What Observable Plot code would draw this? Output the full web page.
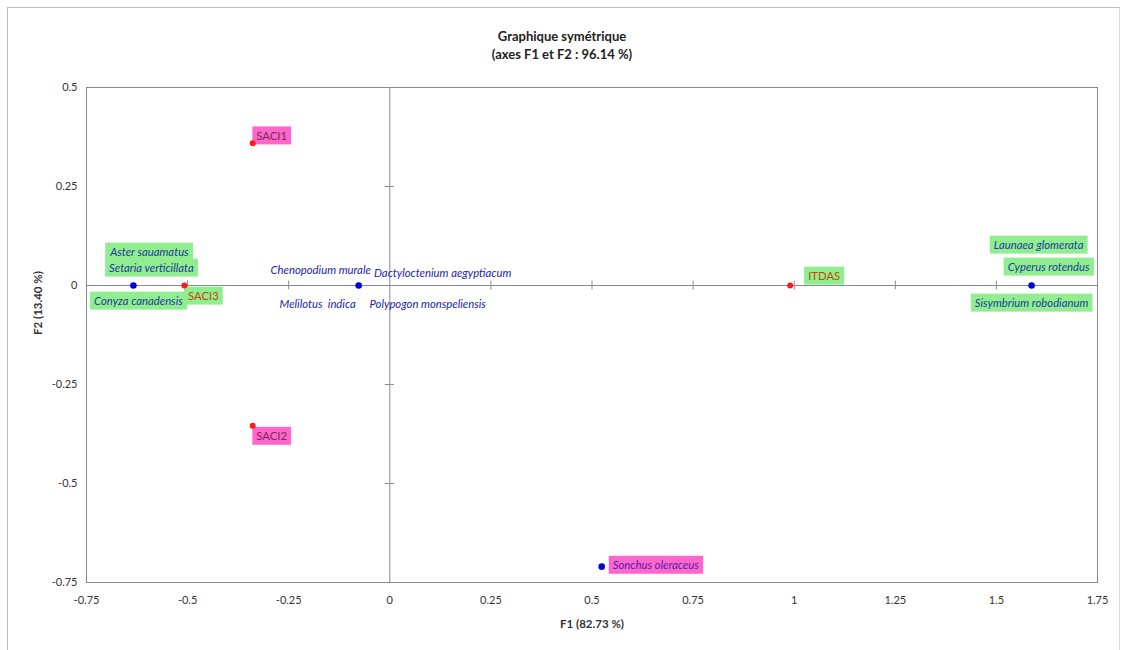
<!DOCTYPE html>
<html>
<head>
<meta charset="utf-8">
<script src="https://cdn.jsdelivr.net/npm/d3@7"></script>
<script src="https://cdn.jsdelivr.net/npm/@observablehq/plot@0.6"></script>
<style>
  html, body { margin: 0; padding: 0; background: #fff; }
  #page { position: relative; width: 1124px; height: 650px; overflow: hidden; font-family: Lato, "Open Sans", sans-serif; }
  #frame { position: absolute; left: 7px; top: 7px; width: 1111px; height: 660px; border-left: 1px solid #bdbdbd; border-top: 1px solid #bdbdbd; border-right: 1px solid #d8d8d8; }
  #title { position: absolute; left: 0; top: 27px; width: 1124px; text-align: center; font-weight: bold; font-size: 13px; line-height: 18px; color: #222; font-family: Lato, sans-serif; }
  #chart { position: absolute; left: 0; top: 70px; }
  #chart text { white-space: pre; }
</style>
</head>
<body>
<div id="page">
  <div id="frame"></div>
  <div id="title">Graphique symétrique<br>(axes F1 et F2 : 96.14 %)</div>
  <div id="chart"></div>
</div>
<script>
// ---- data ----
const siteNames = ["SACI1", "SACI2", "SACI3", "ITDAS"];
const siteF1 = [-0.339, -0.339, -0.508, 0.99];
const siteF2 = [0.359, -0.354, 0.0, 0.0];

const speciesNames = [
  "Aster sauamatus", "Setaria verticillata", "Conyza canadensis",
  "Chenopodium murale", "Dactyloctenium aegyptiacum", "Melilotus  indica", "Polypogon monspeliensis",
  "Launaea glomerata", "Cyperus rotendus", "Sisymbrium robodianum",
  "Sonchus oleraceus"
];
const speciesF1 = [-0.634, -0.634, -0.634, -0.077, -0.077, -0.077, -0.077, 1.587, 1.587, 1.587, 0.524];
const speciesF2 = [0, 0, 0, 0, 0, 0, 0, 0, 0, 0, -0.71];

const xTicks = [-0.75, -0.5, -0.25, 0, 0.25, 0.5, 0.75, 1, 1.25, 1.5, 1.75];
const yTicks = [-0.75, -0.5, -0.25, 0, 0.25, 0.5];
const xLabel = "F1 (82.73 %)";
const yLabel = "F2 (13.40 %)";

// ---- label layout (pixel offsets & box styles) ----
const labelStyle = {
  "SACI1": {dx: 19, dy: -7, bg: "#ff66cc", fill: "#7a2a55"},
  "SACI2": {dx: 19, dy: 11, bg: "#ff66cc", fill: "#7a2a55"},
  "SACI3": {dx: 19, dy: 11, bg: "#90ee90", fill: "#c04a00"},
  "ITDAS": {dx: 34, dy: -9, bg: "#90ee90", fill: "#c04a00"},
  "Aster sauamatus": {dx: 16, dy: -33, bg: "#90ee90", fill: "#1f3a9a"},
  "Setaria verticillata": {dx: 18, dy: -17, bg: "#90ee90", fill: "#1f3a9a"},
  "Conyza canadensis": {dx: 5, dy: 16, bg: "#90ee90", fill: "#1f3a9a"},
  "Chenopodium murale": {dx: -38, dy: -15, bg: null, fill: "#2424a8"},
  "Dactyloctenium aegyptiacum": {dx: 84, dy: -12, bg: null, fill: "#2424a8"},
  "Melilotus  indica": {dx: -41, dy: 19, bg: null, fill: "#2424a8"},
  "Polypogon monspeliensis": {dx: 69, dy: 19, bg: null, fill: "#2424a8"},
  "Launaea glomerata": {dx: 7, dy: -40, bg: "#90ee90", fill: "#1f3a9a"},
  "Cyperus rotendus": {dx: 17, dy: -18, bg: "#90ee90", fill: "#1f3a9a"},
  "Sisymbrium robodianum": {dx: 0, dy: 18, bg: "#90ee90", fill: "#1f3a9a"},
  "Sonchus oleraceus": {dx: 54, dy: -1, bg: "#ff66cc", fill: "#4a1fb0"}
};

const sites = siteNames.map((n, i) => ({name: n, x: siteF1[i], y: siteF2[i], kind: "site"}));
const species = speciesNames.map((n, i) => ({name: n, x: speciesF1[i], y: speciesF2[i], kind: "species"}));
const labels = [...sites, ...species];
const uniqueSpeciesPts = species.filter((d, i, a) => a.findIndex(e => e.x === d.x && e.y === d.y) === i);

const fmt = d => String(d);

const textMarks = labels.map(d => Plot.text([d], {
  x: "x", y: "y", text: "name",
  dx: labelStyle[d.name].dx, dy: labelStyle[d.name].dy,
  fill: labelStyle[d.name].fill,
  fontSize: 11.3,
  fontStyle: d.kind === "site" ? "normal" : "italic",
  fontFamily: "Lato, 'Open Sans', sans-serif"
}));

const chart = Plot.plot({
  width: 1124,
  height: 580,
  marginTop: 17,
  marginBottom: 68,
  marginLeft: 86,
  marginRight: 27,
  style: {fontFamily: "Lato, sans-serif", fontSize: "11px", color: "#333", background: "transparent"},
  x: {domain: [-0.75, 1.75], ticks: xTicks, tickFormat: fmt, tickSize: 0, tickPadding: 14, label: null},
  y: {domain: [-0.75, 0.5], ticks: yTicks, tickFormat: fmt, tickSize: 0, tickPadding: 9, label: null},
  marks: [
    Plot.frame({stroke: "#8a8a8a"}),
    Plot.ruleY([0], {stroke: "#8a8a8a"}),
    Plot.ruleX([0], {stroke: "#8a8a8a"}),
    Plot.ruleX(xTicks.filter(t => t !== 0), {x: d => d, y1: -0.011, y2: 0.011, stroke: "#8a8a8a"}),
    Plot.ruleY(yTicks.filter(t => t !== 0), {y: d => d, x1: -0.011, x2: 0.011, stroke: "#8a8a8a"}),
    ...textMarks,
    Plot.dot(uniqueSpeciesPts, {x: "x", y: "y", r: 3.3, fill: "#0000dd", stroke: "none"}),
    Plot.dot(sites, {x: "x", y: "y", r: 3, fill: "#ff1a1a", stroke: "none"}),
    Plot.text([xLabel], {frameAnchor: "bottom", dy: 45, text: d => d, fontWeight: "bold", fontSize: 11.5, fill: "#333"}),
    Plot.text([yLabel], {frameAnchor: "left", dx: -48, rotate: -90, text: d => d, fontWeight: "bold", fontSize: 11.5, fill: "#333"})
  ]
});

document.getElementById("chart").appendChild(chart);

// add label background boxes behind labelled texts
const svgNS = "http://www.w3.org/2000/svg";
const bgGroup = document.createElementNS(svgNS, "g");
const texts = Array.from(chart.querySelectorAll("text"));
let firstLabelG = null;
texts.forEach(t => {
  const s = labelStyle[t.textContent];
  if (!s) return;
  if (!firstLabelG) firstLabelG = t.parentNode;
  if (!s.bg) return;
  const b = t.getBBox();
  const r = document.createElementNS(svgNS, "rect");
  let ox = 0, oy = 0;
  const tr = t.getAttribute("transform");
  if (tr) {
    const mm = /translate\(([-\d.e]+)[ ,]+([-\d.e]+)\)/.exec(tr);
    if (mm) { ox = +mm[1]; oy = +mm[2]; }
  }
  const ptr = t.parentNode.getAttribute("transform");
  if (ptr) {
    const mm = /translate\(([-\d.e]+)[ ,]*([-\d.e]+)?\)/.exec(ptr);
    if (mm) { ox += +mm[1]; oy += +(mm[2] || 0); }
  }
  r.setAttribute("x", ox + b.x - 4);
  r.setAttribute("y", oy + b.y - 2.5);
  r.setAttribute("width", b.width + 8);
  r.setAttribute("height", b.height + 5);
  r.setAttribute("fill", s.bg);
  bgGroup.appendChild(r);
});
if (firstLabelG) {
  const g = firstLabelG.closest("g[aria-label]") || firstLabelG;
  g.parentNode.insertBefore(bgGroup, g);
}
</script>
</body>
</html>
